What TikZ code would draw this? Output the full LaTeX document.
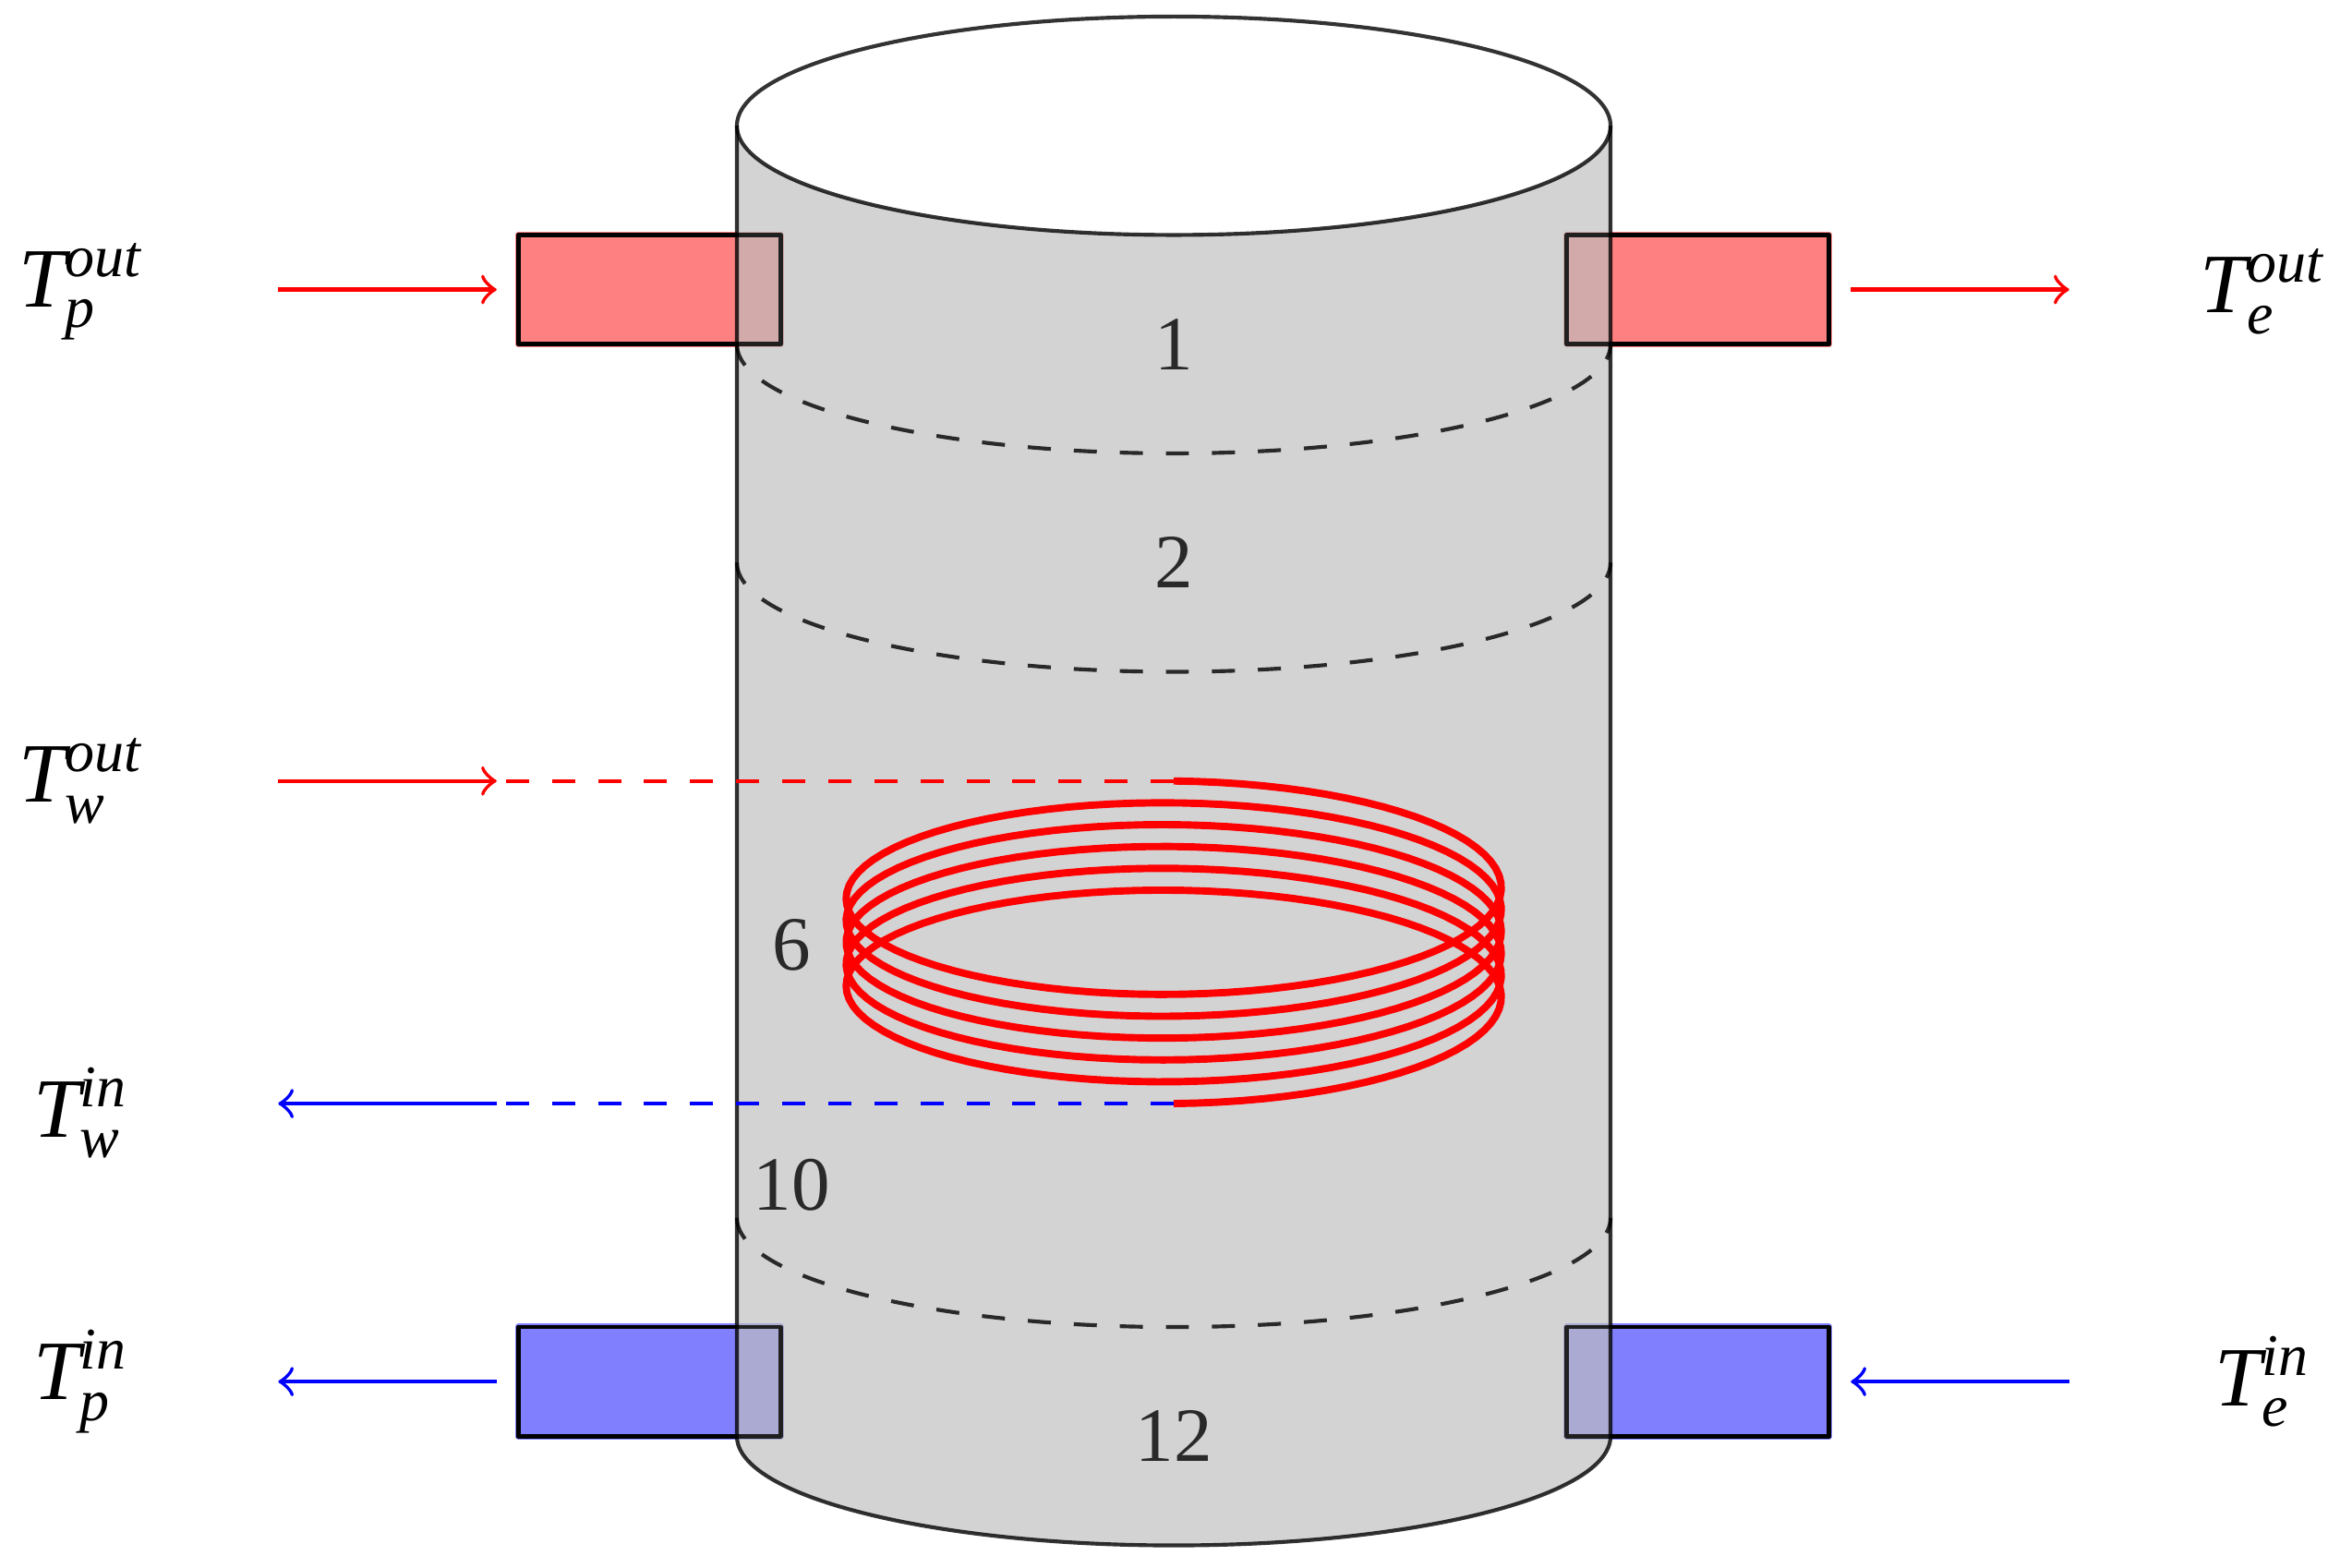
\documentclass[tikz,border=0pt]{standalone}
\usepackage{fontspec}
\setmainfont{Liberation Serif}
\definecolor{cylgray}{gray}{0.745}
\newcommand{\tlab}[2]{$\mathit{T}_{\mathit{#1}}^{\mathit{#2}}$}
\tikzset{
    pipe/.style = {rectangle, minimum width=1.2cm, minimum height=0.5cm, inner sep=0pt, outer sep=0.1cm},
    pipered/.style = {pipe, fill=red!50, draw=red!50, line width=0.9pt},
    pipeblue/.style = {pipe, fill=blue!50, draw=blue!50, line width=0.9pt},
    pipeline/.style = {pipe, draw=black, line width=0.55pt},
    pipeover/.style = {pipe, draw=black, draw opacity=0.75, line width=0.55pt},
    level/.style = {text=black, text opacity=0.8},
    layer/.style = {dashed, draw=black, draw opacity=0.8, line width=0.5pt},
    cyl/.style = {draw=black, draw opacity=0.8, line width=0.5pt},
    tlabel/.style = {font=\fontsize{11}{14}\selectfont},
    flow/.style = {->, line width=0.5pt}
}

\begin{document}
\begin{tikzpicture}[line cap=butt,line join=round,x=1.0cm,y=1.0cm]
\useasboundingbox (-5.374,-0.600) rectangle (5.340,6.576);

% connections, under the tank
\node[pipered] (pipepout) at (-2.4,5.25) {};
\node[pipered] (pipeeout) at (2.4,5.25) {};
\node[pipeblue] (pipepin) at (-2.4,0.25) {};
\node[pipeblue] (pipeein) at (2.4,0.25) {};
\node[pipeline] (pipepoutb) at (-2.4,5.25) {};
\node[pipeline] (pipeeoutb) at (2.4,5.25) {};
\node[pipeline] (pipepinb) at (-2.4,0.25) {};
\node[pipeline] (pipeeinb) at (2.4,0.25) {};

% tank
\path[fill=cylgray, fill opacity=0.68] (-2,6) -- (-2,0) arc (180:360:2 and 0.5) -- (2,6) arc (360:180:2 and 0.5) -- cycle;
\draw[cyl] (-2,6) -- (-2,0) arc (180:360:2 and 0.5) -- (2,6);
\draw[cyl] (0,6) ellipse (2 and 0.5);
\draw[layer] (-2,5) arc (180:360:2 and 0.5);
\draw[layer] (-2,4) arc (180:360:2 and 0.5);
\draw[layer] (-2,1) arc (180:360:2 and 0.5);

\node[pipeover] (pipepoutc) at (-2.4,5.25) {};
\node[pipeover] (pipeeoutc) at (2.4,5.25) {};
\node[pipeover] (pipepinc) at (-2.4,0.25) {};
\node[pipeover] (pipeeinc) at (2.4,0.25) {};

\node[level] (lvlone) at (0,5) {1};
\node[level] (lvltwo) at (0,4) {2};
\node[level] (lvlsix) at (-1.75,2.25) {6};
\node[level] (lvlten) at (-1.75,1.15) {10};
\node[level] (lvltwelve) at (0,0) {12};

% coil
\coordinate (coilin) at (0,3);
\coordinate (coilout) at (0,1.523);
\coordinate (wout) at (-3.1,3);
\coordinate (win) at (-3.1,1.523);
\draw[red, dashed, line width=0.5pt] (coilin) -- (wout);
\draw[blue, dashed, line width=0.5pt] (coilout) -- (win);
\draw[red, line width=0.95pt] plot[domain=0:1980, samples=500] ({1.5*sin(\x)},{2.5365-0.1*\x/360+0.4635*cos(\x)});

% labels
\node[tlabel] (tpout) at (-5.0,5.24) {\tlab{p}{out}};
\node[tlabel] (twout) at (-5.0,3.0) {\tlab{w}{out}};
\node[tlabel] (twin) at (-5.0,1.48) {\tlab{w}{in}};
\node[tlabel] (tpin) at (-5.0,0.25) {\tlab{p}{in}};
\node[tlabel] (teout) at (4.99,5.24) {\tlab{e}{out}};
\node[tlabel] (tein) at (4.99,0.25) {\tlab{e}{in}};

\coordinate (apout) at (-4.1,5.25);
\coordinate (awout) at (-4.1,3);
\coordinate (awin) at (-4.1,1.523);
\coordinate (apin) at (-4.1,0.25);
\coordinate (aeout) at (4.1,5.25);
\coordinate (aein) at (4.1,0.25);

\draw[red, flow] (apout) -- (pipepoutb.west);
\draw[red, flow] (pipeeoutb.east) -- (aeout);
\draw[red, flow] (awout) -- (wout);
\draw[blue, flow] (win) -- (awin);
\draw[blue, flow] (pipepinb.west) -- (apin);
\draw[blue, flow] (aein) -- (pipeeinb.east);
\end{tikzpicture}
\end{document}
